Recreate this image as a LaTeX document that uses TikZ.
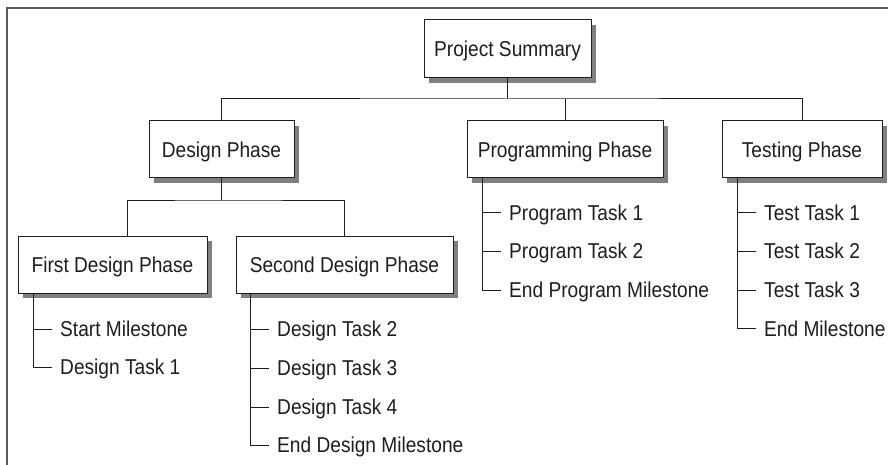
\documentclass[tikz,border=0pt]{standalone}
\usepackage{fontspec}
\setmainfont{Liberation Sans}[FakeStretch=0.89]
\usetikzlibrary{shadows}
\definecolor{framegray}{RGB}{90,90,90}
\definecolor{shadowgray}{RGB}{128,128,128}
\definecolor{inkdark}{RGB}{30,30,30}
\tikzset{
  wbsbox/.style={draw=inkdark, line width=1pt, fill=white, inner sep=0pt,
    text height=15.5pt, text depth=0pt, text=inkdark,
    font=\fontsize{21.5}{25}\selectfont,
    general shadow={fill=shadowgray, shadow xshift=5pt, shadow yshift=-5pt}},
  wbsitem/.style={anchor=west, inner xsep=8pt, inner ysep=0pt,
    text height=15.5pt, text depth=0pt, text=inkdark,
    font=\fontsize{21.5}{25}\selectfont},
  wbsline/.style={draw=inkdark, line width=1pt},
  frameline/.style={draw=framegray, line width=2pt}
}
\begin{document}
\begin{tikzpicture}[x=1pt,y=-1pt]
\useasboundingbox (0,0) rectangle (888,465);
\fill[white] (0,0) rectangle (888,465);
\draw[frameline] (6.5,465) -- (6.5,8.5) -- (888,8.5);

% boxes
\node[wbsbox, minimum width=167pt, minimum height=58pt] (ps) at (507.5,49) {Project Summary};
\node[wbsbox, minimum width=145pt, minimum height=57pt] (dp) at (221.5,149.5) {Design Phase};
\node[wbsbox, minimum width=196pt, minimum height=57pt] (pp) at (565,149.5) {Programming Phase};
\node[wbsbox, minimum width=160pt, minimum height=57pt] (tp) at (802,149.5) {Testing Phase};
\node[wbsbox, minimum width=189pt, minimum height=57pt] (fd) at (112.5,264.5) {First Design Phase};
\node[wbsbox, minimum width=217pt, minimum height=57pt] (sd) at (344.5,264.5) {Second Design Phase};

% top level bus
\coordinate (bus1) at (507.5,99);
\draw[wbsline] (ps.south) -- (bus1);
\draw[wbsline] (dp.north) |- (bus1) -| (tp.north);
\draw[wbsline] (pp.north) -- (pp.north |- bus1);

% design bus
\coordinate (bus2) at (221.5,200);
\coordinate (fdtop) at (127,236);
\draw[wbsline] (dp.south) -- (bus2);
\draw[wbsline] (fdtop) |- (bus2) -| (sd.north);

% first design items
\node[wbsitem] (fd1) at (52,329) {Start Milestone};
\node[wbsitem] (fd2) at (52,367) {Design Task 1};
\draw[wbsline] ([xshift=16pt]fd.south west) |- (fd2.west);
\draw[wbsline] (34,0 |- fd1.west) -- (fd1.west);

% second design items
\node[wbsitem] (sd1) at (269,329) {Design Task 2};
\node[wbsitem] (sd2) at (269,368) {Design Task 3};
\node[wbsitem] (sd3) at (269,407) {Design Task 4};
\node[wbsitem] (sd4) at (269,445) {End Design Milestone};
\draw[wbsline] ([xshift=15pt]sd.south west) |- (sd4.west);
\foreach \n in {sd1,sd2,sd3} \draw[wbsline] (251,0 |- \n.west) -- (\n.west);

% programming items
\node[wbsitem] (pp1) at (501,212.5) {Program Task 1};
\node[wbsitem] (pp2) at (501,251) {Program Task 2};
\node[wbsitem] (pp3) at (501,290) {End Program Milestone};
\draw[wbsline] ([xshift=16pt]pp.south west) |- (pp3.west);
\foreach \n in {pp1,pp2} \draw[wbsline] (483,0 |- \n.west) -- (\n.west);

% testing items
\node[wbsitem] (tp1) at (756,212.5) {Test Task 1};
\node[wbsitem] (tp2) at (756,251) {Test Task 2};
\node[wbsitem] (tp3) at (756,290) {Test Task 3};
\node[wbsitem] (tp4) at (756,328.5) {End Milestone};
\draw[wbsline] ([xshift=16pt]tp.south west) |- (tp4.west);
\foreach \n in {tp1,tp2,tp3} \draw[wbsline] (738,0 |- \n.west) -- (\n.west);
\end{tikzpicture}
\end{document}
